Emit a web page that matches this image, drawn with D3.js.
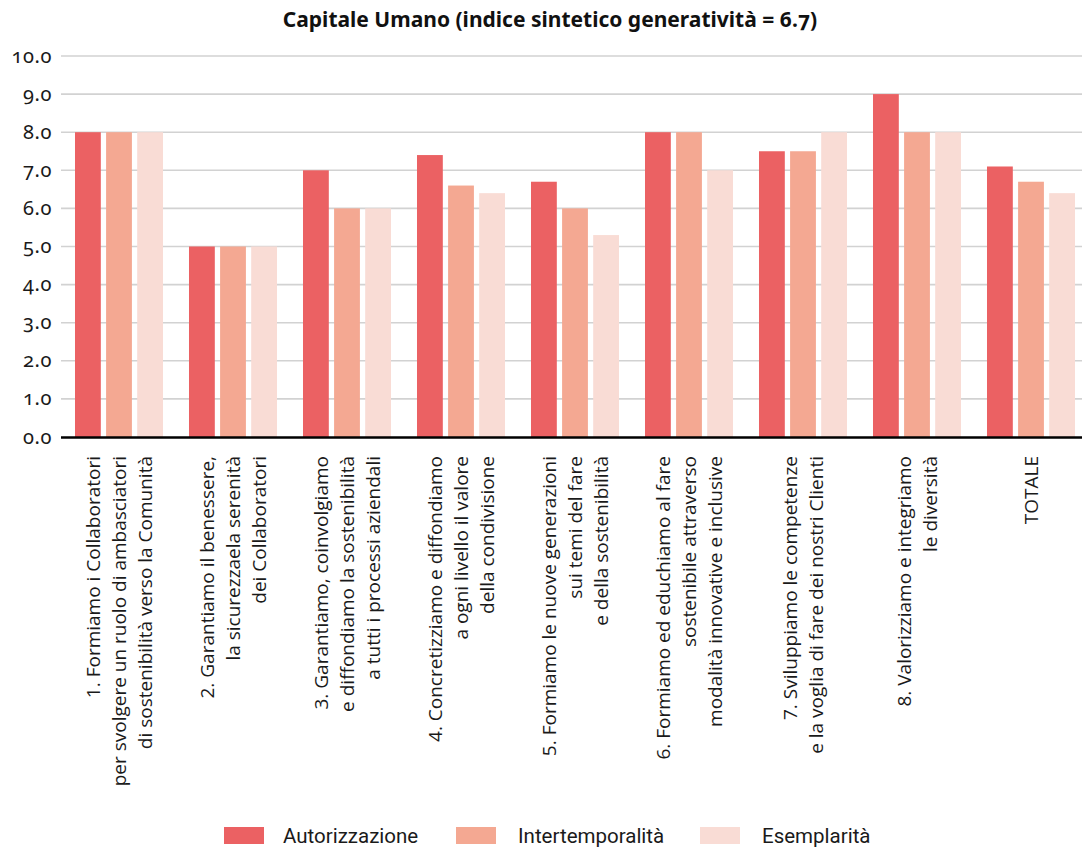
<!DOCTYPE html>
<html>
<head>
<meta charset="utf-8">
<script src="https://cdn.jsdelivr.net/npm/d3@7"></script>
<style>
  html, body { margin: 0; padding: 0; background: #fff; }
  svg { display: block; }
  .tick-label { font-family: "Noto Sans", sans-serif; font-size: 20px; letter-spacing: 0.6px; fill: #1a1a1a; font-variant-numeric: oldstyle-nums; font-feature-settings: "onum" 1; }
  .cat-label { font-family: "Open Sans", sans-serif; font-size: 19px; fill: #1a1a1a; }
  .legend-label { font-family: Roboto, sans-serif; font-size: 20.5px; fill: #1a1a1a; }
  .title { font-family: "Noto Sans", sans-serif; font-weight: bold; font-size: 21px; fill: #111; font-feature-settings: "onum" 1; }
</style>
</head>
<body>
<svg id="chart" width="1082" height="848"></svg>
<script>
// Category labels, one array of lines per group
const categories = [
  ["1. Formiamo i Collaboratori", "per svolgere un ruolo di ambasciatori", "di sostenibilità verso la Comunità"],
  ["2. Garantiamo il benessere,", "la sicurezzaela serenità", "dei Collaboratori"],
  ["3. Garantiamo, coinvolgiamo", "e diffondiamo la sostenibilità", "a tutti i processi aziendali"],
  ["4. Concretizziamo e diffondiamo", "a ogni livello il valore", "della condivisione"],
  ["5. Formiamo le nuove generazioni", "sui temi del fare", "e della sostenibilità"],
  ["6. Formiamo ed educhiamo al fare", "sostenibile attraverso", "modalità innovative e inclusive"],
  ["7. Sviluppiamo le competenze", "e la voglia di fare dei nostri Clienti"],
  ["8. Valorizziamo e integriamo", "le diversità"],
  ["TOTALE"]
];

const seriesNames = ["Autorizzazione", "Intertemporalità", "Esemplarità"];
const seriesColors = ["#EB6163", "#F4A892", "#F9DCD5"];

const autorizzazione   = [8.0, 5.0, 7.0, 7.4, 6.7, 8.0, 7.5, 9.0, 7.1];
const intertemporalita = [8.0, 5.0, 6.0, 6.6, 6.0, 8.0, 7.5, 8.0, 6.7];
const esemplarita      = [8.0, 5.0, 6.0, 6.4, 5.3, 7.0, 8.0, 8.0, 6.4];

const yTicks = [0, 1, 2, 3, 4, 5, 6, 7, 8, 9, 10];
const titleText = "Capitale Umano (indice sintetico generatività = 6.7)";

const seriesValues = [autorizzazione, intertemporalita, esemplarita];

const svg = d3.select("#chart");

const x0 = d3.scaleBand()
  .domain(d3.range(categories.length))
  .range([62, 1088])
  .paddingInner(0.228)
  .paddingOuter(0.114);

const x1 = d3.scaleBand()
  .domain(d3.range(seriesNames.length))
  .range([0, x0.bandwidth()])
  .paddingInner(0.17);

const y = d3.scaleLinear().domain([0, 10]).range([437, 56]);

// Title
svg.append("text")
  .attr("class", "title")
  .attr("x", 550)
  .attr("y", 27)
  .attr("text-anchor", "middle")
  .text(titleText);

// Horizontal gridlines
svg.append("g")
  .selectAll("line")
  .data(yTicks.filter(d => d > 0))
  .join("line")
  .attr("x1", 61)
  .attr("x2", 1082)
  .attr("y1", d => y(d))
  .attr("y2", d => y(d))
  .attr("stroke", "#d2d2d2")
  .attr("stroke-width", 1.6);

// Y axis labels
const yAxis = d3.axisLeft(y).tickValues(yTicks).tickFormat(d3.format(".1f")).tickSize(0).tickPadding(0);
const yg = svg.append("g").attr("transform", "translate(52,0)").call(yAxis);
yg.select(".domain").remove();
yg.selectAll("text")
  .attr("class", "tick-label")
  .attr("font-size", null)
  .attr("font-family", null)
  .attr("fill", null)
  .attr("dy", "0.3em");

// Bars
const groups = svg.append("g")
  .selectAll("g")
  .data(categories.map((c, i) => i))
  .join("g")
  .attr("transform", i => `translate(${x0(i)},0)`);

groups.selectAll("rect")
  .data(i => seriesValues.map((vals, s) => ({ s, v: vals[i] })))
  .join("rect")
  .attr("x", d => x1(d.s))
  .attr("width", x1.bandwidth())
  .attr("y", d => y(d.v))
  .attr("height", d => y(0) - y(d.v))
  .attr("fill", d => seriesColors[d.s]);

// Baseline
svg.append("line")
  .attr("x1", 61)
  .attr("x2", 1082)
  .attr("y1", y(0) + 0.5)
  .attr("y2", y(0) + 0.5)
  .attr("stroke", "#000")
  .attr("stroke-width", 2.6);

// Rotated category labels, lines centred on each group
const lineGap = 26;
const labels = svg.append("g")
  .selectAll("text")
  .data(categories.map((lines, i) => ({ lines, i })))
  .join("text")
  .attr("class", "cat-label")
  .attr("text-anchor", "end")
  .attr("transform", d => `translate(${x0(d.i) + x0.bandwidth() / 2},456) rotate(-90)`);

labels.selectAll("tspan")
  .data(d => d.lines.map((t, k) => ({ t, k, n: d.lines.length })))
  .join("tspan")
  .attr("x", 0)
  .attr("y", d => (d.k - (d.n - 1) / 2) * lineGap)
  .attr("dy", "0.36em")
  .text(d => d.t);

// Legend
const legendItems = [
  { sx: 224, tx: 283 },
  { sx: 456, tx: 518 },
  { sx: 700, tx: 762 }
];
const legend = svg.append("g")
  .selectAll("g")
  .data(seriesNames.map((name, s) => ({ name, s })))
  .join("g");

legend.append("rect")
  .attr("x", d => legendItems[d.s].sx)
  .attr("y", 827)
  .attr("width", 40)
  .attr("height", 17)
  .attr("fill", d => seriesColors[d.s]);

legend.append("text")
  .attr("class", "legend-label")
  .attr("x", d => legendItems[d.s].tx)
  .attr("y", 843)
  .text(d => d.name);
</script>
</body>
</html>
